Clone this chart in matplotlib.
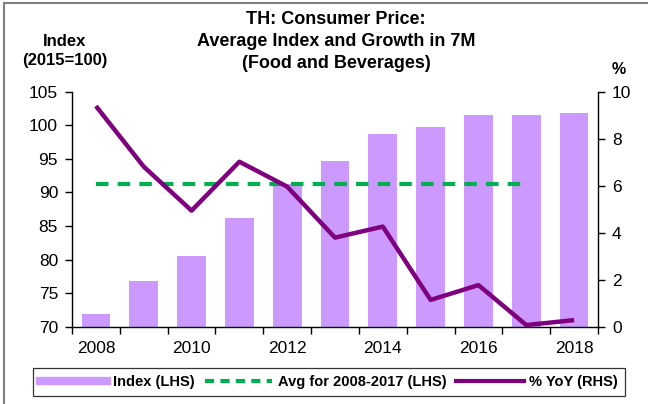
import matplotlib.pyplot as plt
from matplotlib.lines import Line2D

plt.rcParams["font.family"] = ["Liberation Sans", "DejaVu Sans"]

years = [2008, 2009, 2010, 2011, 2012, 2013, 2014, 2015, 2016, 2017, 2018]
index_7m = [71.9, 76.8, 80.6, 86.2, 91.3, 94.7, 98.7, 99.8, 101.5, 101.6, 101.8]
yoy_pct = [9.39, 6.81, 4.94, 7.02, 5.96, 3.79, 4.26, 1.14, 1.77, 0.07, 0.28]
avg_2008_2017 = 91.2
xtick_labels = ["2008", "2010", "2012", "2014", "2016", "2018"]

bar_color = "#cc99ff"
avg_color = "#00b050"
yoy_color = "#7f007f"

fig = plt.figure(figsize=(6.48, 4.04), dpi=100)
ax = fig.add_axes([72 / 648, 1 - 326.7 / 404, 526 / 648, 235 / 404])
ax2 = ax.twinx()

pos = list(range(len(years)))
ax.bar(pos, index_7m, width=0.6, color=bar_color, zorder=2)

# average line runs over 2008-2017 only
avg_pos = [p for p, y in zip(pos, years) if y <= 2017]
ax.plot([avg_pos[0], avg_pos[-1]], [avg_2008_2017, avg_2008_2017],
        color=avg_color, lw=3, dashes=(3, 2.2), zorder=3)

ax2.plot(pos, yoy_pct, color=yoy_color, lw=3.2, solid_capstyle="butt", zorder=4)

ax.set_xlim(-0.5, len(years) - 0.5)
ax.set_ylim(70, 105)
ax.set_yticks(range(70, 106, 5))
ax2.set_ylim(0, 10)
ax2.set_yticks(range(0, 11, 2))

# category boundaries as tick marks, labels on every other year
ax.set_xticks([p - 0.5 for p in pos] + [pos[-1] + 0.5])
ax.set_xticklabels([])
ax.set_xticks(pos[::2], minor=True)
ax.set_xticklabels(xtick_labels, minor=True)
ax.tick_params(axis="x", which="major", length=5, width=1, direction="out")
ax.tick_params(axis="x", which="minor", length=0, pad=10, labelsize=12.5)

ax.tick_params(axis="y", length=5, width=1, direction="out", labelsize=12.5, pad=5)
ax2.tick_params(axis="y", length=5, width=1, direction="out", labelsize=12.5, pad=5)

for a in (ax, ax2):
    a.spines["top"].set_visible(False)
    for s in a.spines.values():
        s.set_linewidth(1)
ax.spines["right"].set_visible(False)
ax2.spines["left"].set_visible(False)
ax2.spines["bottom"].set_visible(False)

title_lines = ["TH: Consumer Price:", "Average Index and Growth in 7M", "(Food and Beverages)"]
for line, ypx in zip(title_lines, [19, 42, 63]):
    fig.text(336 / 648, 1 - ypx / 404, line, ha="center", va="center",
             fontsize=13, fontweight="bold")
fig.text(65 / 648, 1 - 42 / 404, "Index", ha="center", va="center",
         fontsize=12, fontweight="bold")
fig.text(65 / 648, 1 - 61 / 404, "(2015=100)", ha="center", va="center",
         fontsize=12, fontweight="bold")
fig.text(619 / 648, 1 - 70 / 404, "%", ha="center", va="center",
         fontsize=11.5, fontweight="bold")

handles = [
    Line2D([0], [0], color=bar_color, lw=6),
    Line2D([0], [0], color=avg_color, lw=3, dashes=(2.2, 1.5)),
    Line2D([0], [0], color=yoy_color, lw=3),
]
labels = ["Index (LHS)", "Avg for 2008-2017 (LHS)", "% YoY (RHS)"]
leg = fig.legend(handles, labels, loc="center", bbox_to_anchor=(329 / 648, 1 - 382 / 404),
                 ncol=3, frameon=True, fancybox=False, edgecolor="black",
                 prop={"weight": "bold", "size": 10.5}, handlelength=4.6,
                 handletextpad=0.4, columnspacing=0.7, borderpad=0.5)
leg.get_frame().set_linewidth(0.9)

# outer frame (left and top edges)
fig.add_artist(Line2D([4 / 648, 4 / 648], [0, 1 - 3 / 404], color="#808080", lw=1.5))
fig.add_artist(Line2D([4 / 648, 1], [1 - 3 / 404, 1 - 3 / 404], color="#808080", lw=1.5))

fig.savefig("out.png", dpi=100)
